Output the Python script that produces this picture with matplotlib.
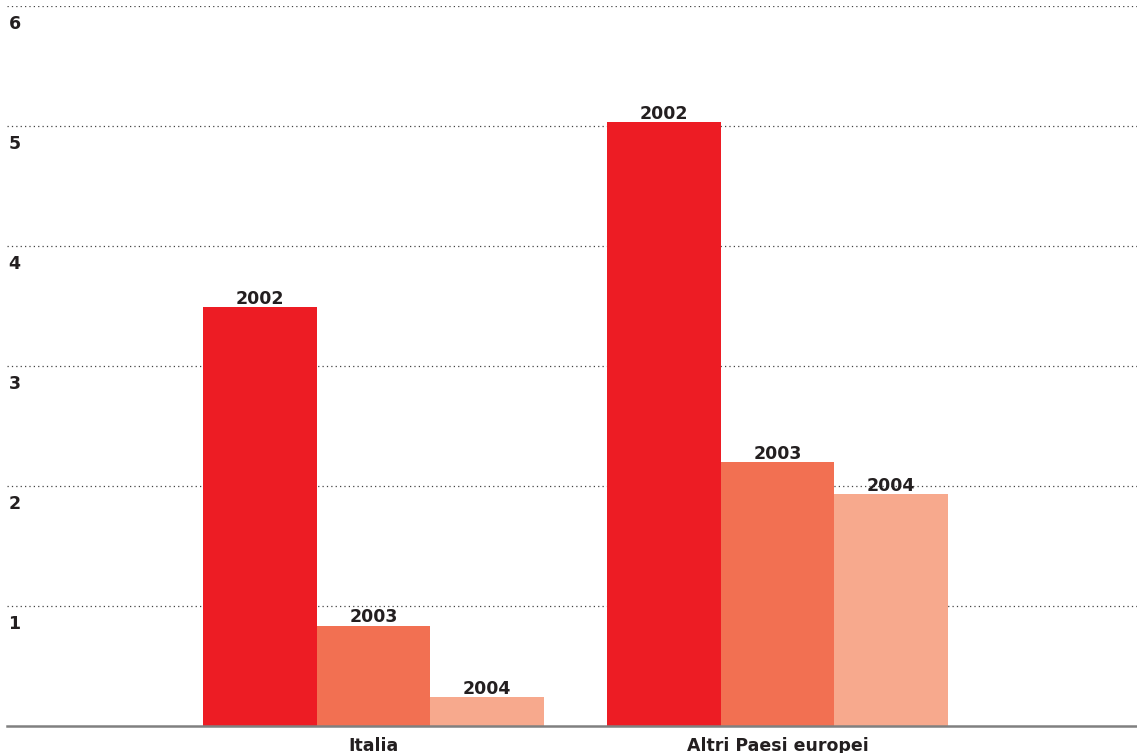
import matplotlib
matplotlib.use("Agg")
import matplotlib.pyplot as plt
import matplotlib.transforms as mtransforms
import numpy as np

categories = ["Italia", "Altri Paesi europei"]
years = ["2002", "2003", "2004"]
values_2002 = [3.49, 5.03]
values_2003 = [0.835, 2.20]
values_2004 = [0.24, 1.93]
y_ticks = [1, 2, 3, 4, 5, 6]

colors = ["#ED1C24", "#F27052", "#F7A98D"]
series = [values_2002, values_2003, values_2004]

plt.rcParams["font.family"] = ["DejaVu Sans"]
TEXT = "#231F20"

fig = plt.figure(figsize=(11.37, 7.53), dpi=100)
ax = fig.add_axes([7 / 1137, 1 - 726 / 753, 1 - 7 / 1137, (726 - 6) / 753])

x = np.arange(len(categories))
width = 0.2814

for i, (vals, col, yr) in enumerate(zip(series, colors, years)):
    pos = x + (i - 1) * width
    bars = ax.bar(pos, vals, width=width, color=col, zorder=3, linewidth=0)
    for b, v in zip(bars, vals):
        ax.annotate(yr, (b.get_x() + b.get_width() / 2, v),
                    xytext=(0, 2.5), textcoords="offset points",
                    ha="center", va="baseline", fontsize=12.5,
                    fontweight="bold", color=TEXT, zorder=4)

ax.set_xlim(-0.907, 1.890)
ax.set_ylim(0, 6)

# dotted gridlines
for t in y_ticks:
    ax.axhline(t, color="#444444", linewidth=0.9, linestyle=(0, (1, 2.5)),
               zorder=1)
# baseline
ax.axhline(0, color="#808080", linewidth=1.8, zorder=5, clip_on=False)

# y labels sit just below each gridline at the left edge
trans = mtransforms.blended_transform_factory(ax.transAxes, ax.transData)
for t in y_ticks:
    ax.annotate(str(t), (0, t), xycoords=trans, xytext=(1, -6.5),
                textcoords="offset points", ha="left", va="top",
                fontsize=12.5, fontweight="bold", color=TEXT)

# category labels under the groups
for xi, cat in zip(x, categories):
    ax.annotate(cat, (xi, 0), xytext=(0, -8), textcoords="offset points",
                ha="center", va="top", fontsize=12.5, fontweight="bold",
                color=TEXT, annotation_clip=False)

for s in ax.spines.values():
    s.set_visible(False)
ax.set_xticks([])
ax.set_yticks([])

fig.savefig("out.png", dpi=100)
